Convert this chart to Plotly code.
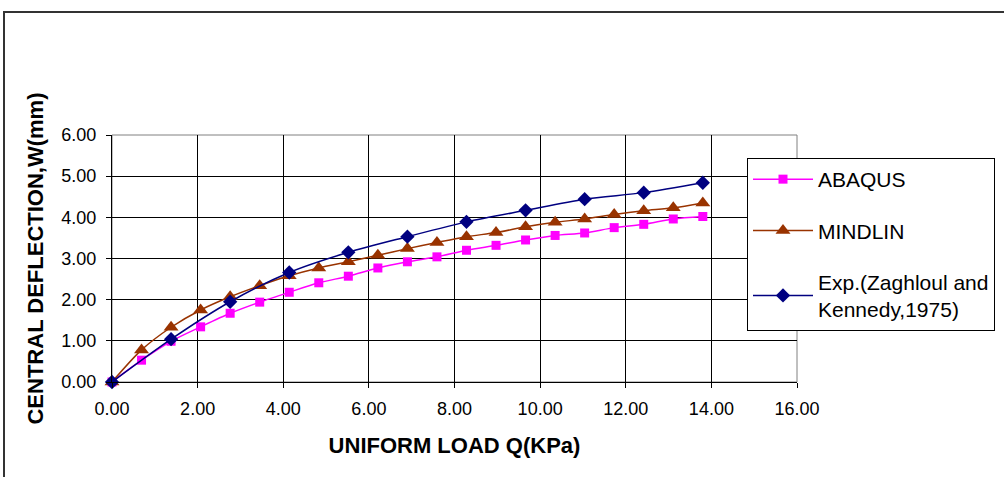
import plotly.graph_objects as go

# ---- data ----
load_q = [0.00, 0.69, 1.38, 2.07, 2.76, 3.45, 4.14, 4.83, 5.52, 6.21, 6.90,
          7.59, 8.28, 8.97, 9.66, 10.35, 11.04, 11.73, 12.42, 13.11, 13.80]
abaqus_w = [0.00, 0.53, 0.99, 1.34, 1.67, 1.94, 2.18, 2.41, 2.57, 2.77, 2.92,
            3.04, 3.20, 3.32, 3.45, 3.56, 3.62, 3.75, 3.83, 3.96, 4.02]
mindlin_w = [0.00, 0.78, 1.33, 1.75, 2.07, 2.34, 2.58, 2.77, 2.92, 3.08, 3.24,
             3.39, 3.53, 3.63, 3.77, 3.88, 3.96, 4.07, 4.16, 4.23, 4.35]
exp_q = [0.00, 1.38, 2.76, 4.14, 5.52, 6.90, 8.28, 9.66, 11.04, 12.42, 13.80]
exp_w = [0.00, 1.04, 1.95, 2.66, 3.15, 3.53, 3.89, 4.17, 4.44, 4.60, 4.84]

series_names = ["ABAQUS", "MINDLIN", "Exp.(Zaghloul and<br>Kennedy,1975)"]
x_title = "UNIFORM LOAD Q(KPa)"
y_title = "CENTRAL DEFLECTION,W(mm)"

FONT = "Arial, Liberation Sans, sans-serif"

fig = go.Figure()
fig.add_trace(go.Scatter(
    x=load_q, y=abaqus_w, name=series_names[0], mode="lines+markers",
    line=dict(color="#FF00FF", width=1.5, shape="spline", smoothing=0.8),
    marker=dict(symbol="square", size=9, color="#FF00FF"),
    legendgroup="a", cliponaxis=False))
fig.add_trace(go.Scatter(
    x=load_q, y=mindlin_w, name=series_names[1], mode="lines+markers",
    line=dict(color="#993300", width=1.5, shape="spline", smoothing=0.8),
    marker=dict(symbol="triangle-up", size=13, color="#993300"),
    legendgroup="b", cliponaxis=False))
fig.add_trace(go.Scatter(
    x=exp_q, y=exp_w, name=series_names[2], mode="lines+markers",
    line=dict(color="#000080", width=1.5, shape="spline", smoothing=0.8),
    marker=dict(symbol="diamond", size=11, color="#000080"),
    legendgroup="c", cliponaxis=False))

L, R, T, B = 112, 207, 135, 95
W, H = 1004, 477
pw, ph = W - L - R, H - T - B

fig.update_layout(
    width=W, height=H,
    margin=dict(l=L, r=R, t=T, b=B, autoexpand=False),
    paper_bgcolor="white", plot_bgcolor="white",
    font=dict(family=FONT, color="black"),
    showlegend=True,
    legend=dict(
        x=(747 - L) / pw, y=(H - B - 158) / ph, xanchor="left", yanchor="top",
        bgcolor="white", bordercolor="black", borderwidth=1,
        font=dict(size=21, family=FONT, color="black"),
        traceorder="grouped", tracegroupgap=21, itemwidth=60,
    ),
    xaxis=dict(
        range=[0, 16], dtick=2, tick0=0, tickformat=".2f",
        showgrid=True, gridcolor="black", gridwidth=1,
        showline=True, linecolor="black", linewidth=1,
        ticks="outside", ticklen=5, tickcolor="black",
        tickfont=dict(size=18, family=FONT), ticklabelstandoff=5,
        title=dict(text="<b>" + x_title + "</b>", font=dict(size=22, family=FONT), standoff=20),
        zeroline=False,
    ),
    yaxis=dict(
        range=[0, 6], dtick=1, tick0=0, tickformat=".2f",
        showgrid=True, gridcolor="black", gridwidth=1,
        showline=True, linecolor="black", linewidth=1,
        ticks="outside", ticklen=5, tickcolor="black",
        tickfont=dict(size=18, family=FONT), ticklabelstandoff=6,
        title=dict(text="<b>" + y_title + "</b>", font=dict(size=22, family=FONT), standoff=11),
        zeroline=False,
    ),
    shapes=[
        # outer chart-area frame (cropped at right and bottom)
        dict(type="rect", xref="paper", yref="paper",
             x0=(4 - L) / pw, x1=(W + 20 - L) / pw,
             y0=(H - B - (H + 20)) / ph, y1=(H - B - 12) / ph,
             line=dict(color="#333333", width=2), layer="below"),
        # gray plot-area border (top/right)
        dict(type="rect", xref="paper", yref="paper", x0=0, x1=1, y0=0, y1=1,
             line=dict(color="#808080", width=1), layer="below"),
    ],
)

fig.write_html("out.html", config={"displayModeBar": False},
               post_script="document.body.style.margin='0';")
